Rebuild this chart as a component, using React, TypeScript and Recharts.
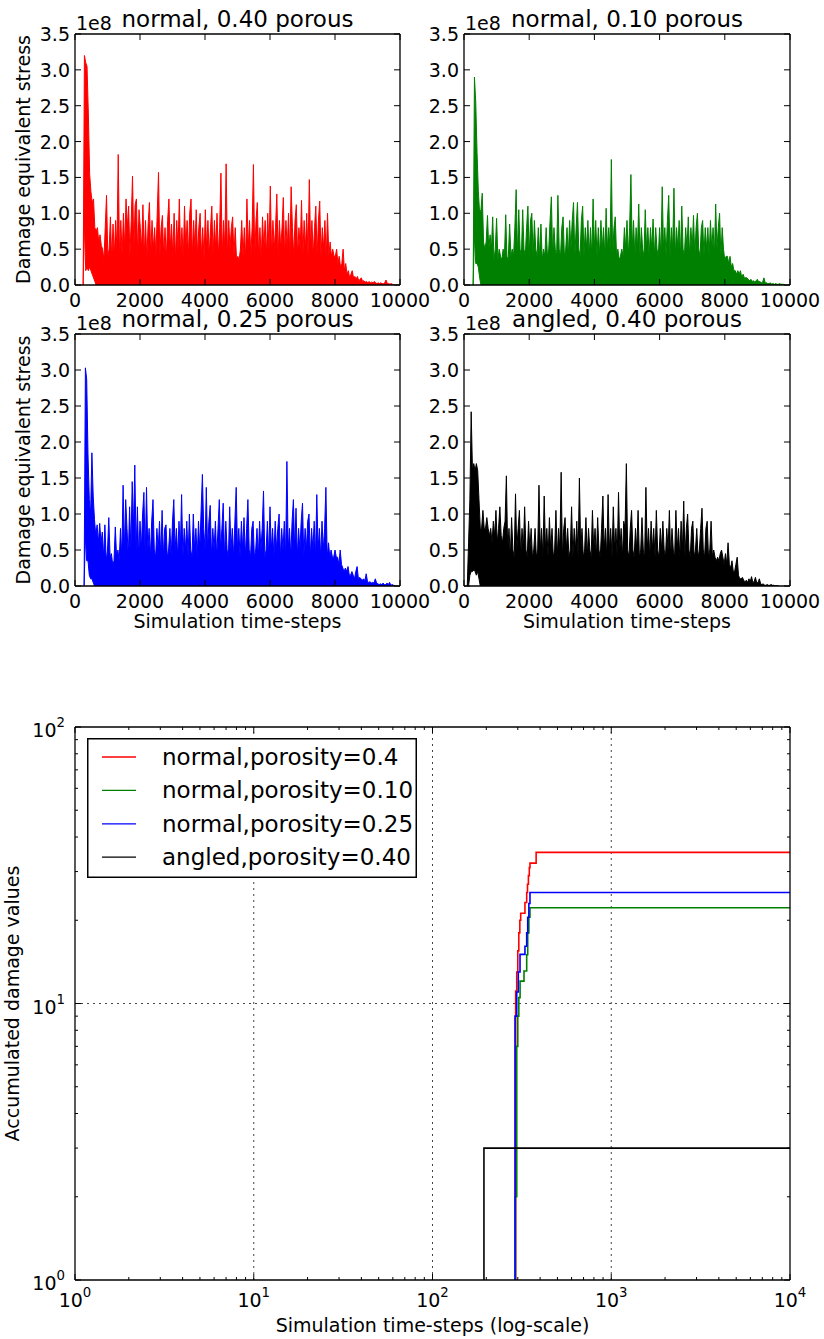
import React from 'react';
import { ComposedChart, LineChart, Area, Line, XAxis, YAxis, Legend, ReferenceLine } from 'recharts';

const FONT = "'DejaVu Sans', sans-serif";
const INK = '#000000';
const TICK_FONT = 19;
const TITLE_FONT = 23;
const LEGEND_FONT = 23;
const MAJOR = 6;
const MINOR = 3;
const FRAME = { stroke: INK, strokeWidth: 1.3 };

// ===== Top panels: damage equivalent stress (units of 1e7).
// The raw signal is far denser than a pixel, so each panel is drawn as its per-column
// envelope: HIGH = upper edge, LOW = lower edge (0 after the listed start).
const SAMPLE_STEP = 40;

const RED_START = 250;
const RED_HIGH = [
  0, 32, 31, 30.5, 24, 15.5, 13, 11.5, 12, 8, 7.5, 8, 6, 7, 5.5,
  5, 3.5, 8, 12.5, 4, 5, 9.5, 3.5, 8.5, 4, 9, 5, 18.2, 4, 9,
  4, 10, 5, 12, 8, 11, 4, 9, 15.2, 5, 11.2, 12, 4, 10.5, 8,
  5, 11.2, 4, 9, 3.5, 8.5, 11.5, 4, 9, 5, 8, 4, 10, 15.7, 4,
  8, 9.7, 4, 8, 3.5, 9, 12, 5, 8.5, 4, 10, 3.5, 9, 5, 12,
  4, 8, 3.5, 11, 5, 9, 4, 10, 12, 4, 9, 5, 10.5, 4, 8,
  10, 4, 8, 3.5, 10.5, 5, 9, 4, 8, 11, 4, 9, 5, 10, 4,
  8, 15.6, 4, 9, 5, 16.9, 4, 9, 5, 8, 9.5, 4, 8, 3.5, 4,
  3.5, 5, 9, 4, 8, 3.5, 12, 5, 9, 4, 8, 16.8, 4, 9, 11.5,
  4, 8, 3.5, 9.5, 5, 9, 4, 10, 5, 13.8, 4, 9, 5, 8, 12.7,
  4, 9, 5, 8, 12.2, 4, 9, 5, 10, 4, 13.7, 8, 4, 9, 11.2,
  4, 8, 5, 11.8, 4, 9, 5, 10, 4, 14.7, 5, 9, 4, 8, 11,
  4, 9, 11.7, 4, 8, 5, 9, 3.5, 10, 4, 6, 4, 5, 4, 4,
  5, 3, 4, 2.5, 3, 5, 2, 3, 1.5, 2, 1, 1.5, 2, 1, 1.2,
  0.8, 1.2, 0.6, 0.8, 1, 0.5, 0.6, 0.4, 0.5, 0.3, 0.5, 0.3, 0.4, 0.3, 0.5,
  0.3, 0.2, 0.3, 0.2, 0.3, 0.2, 0.2, 0.3, 0.7, 0.2, 0.2, 0.1, 0.2, 0.1, 0,
];
const RED_LOW = [0, 8.5, 2, 2.5, 2, 2.5, 2, 1.5, 1, 0.5, 0];

const GREEN_START = 280;
const GREEN_HIGH = [
  0, 29, 25.5, 18.5, 13, 10, 10.5, 12.8, 6, 5, 6, 9.7, 5, 7, 5,
  9.5, 3.5, 5, 9.3, 3.5, 5, 4, 3.5, 5, 4, 9.8, 3.5, 4, 8.5, 4,
  5, 4, 8, 13.3, 4, 10.5, 5, 4, 10.5, 5, 4, 8, 11, 4, 9,
  10, 4, 9, 5, 4, 8, 4, 8.5, 3.5, 5, 4, 8, 4, 5, 9,
  12.3, 4, 8, 5, 4, 12.5, 5, 4, 8, 9.5, 4, 5, 8, 4, 9,
  5, 9, 11.5, 4, 8, 11.5, 5, 4, 9, 11, 4, 8, 5, 9, 4,
  8, 4, 12, 5, 9, 4, 8, 4, 9, 5, 8, 4, 10.7, 5, 8,
  5, 17.5, 4, 8, 9.5, 4, 5, 3.5, 4, 5, 4, 8, 5, 9, 4,
  8, 15.4, 5, 9, 4, 8, 5, 11.3, 4, 8, 5, 4, 10.5, 5, 8,
  4, 8, 5, 9.2, 4, 8, 5, 4, 8, 4, 13.7, 5, 8, 4, 9,
  12.5, 4, 8, 5, 13.5, 4, 8, 5, 9, 4, 11, 5, 4, 8, 5,
  9.5, 4, 8, 5, 9.7, 4, 8, 10, 5, 4, 8, 9, 4, 8, 5,
  8, 4, 9, 5, 8, 4, 11.3, 5, 8, 10, 4, 8, 5, 3.5, 4,
  4, 3, 4, 2.5, 3, 2, 2, 1.5, 2, 1.5, 2, 1, 1.5, 1, 1,
  1, 0.8, 0.6, 0.8, 0.5, 0.6, 0.4, 0.6, 0.8, 0.4, 0.5, 0.3, 0.4, 1, 0.3,
  0.3, 0.2, 0.2, 0.3, 0.1, 0.2, 0.1, 0.2, 0.1, 0.1, 0.2, 0.1, 0.1, 0.1, 0,
];
const GREEN_LOW = [0, 7, 3, 3, 2.5, 1, 0];

const BLUE_START = 280;
const BLUE_HIGH = [
  0, 30.3, 28.7, 18.2, 12, 10, 18.5, 12.5, 9.2, 7, 8.5, 6, 8.7, 6, 7.5,
  4, 8.5, 3.5, 5, 9.5, 4, 4.5, 3, 3.5, 8.2, 4, 5, 3.5, 8, 4,
  14, 5, 12, 8, 4, 11, 5, 14.5, 8, 16.8, 5, 11, 4, 9, 5,
  10, 13, 4, 13.7, 5, 8, 4, 9, 12, 5, 4, 8, 5, 9, 4,
  10.5, 4, 8, 8.5, 4, 5, 8, 4, 9, 12, 5, 8, 4, 9, 5,
  12.7, 4, 8, 5, 9, 4, 10, 5, 4, 10, 5, 8, 4, 9, 5,
  10.5, 15.5, 8, 5, 13.7, 5, 9, 11.2, 4, 8, 5, 9, 4, 8, 12,
  5, 8, 11.5, 4, 9, 5, 4, 11, 5, 8, 4, 9, 13.7, 5, 8,
  4, 9, 5, 9.5, 4, 8, 12, 5, 4, 8, 9, 4, 5, 8, 4,
  9, 5, 8, 13.2, 4, 5, 9, 4, 11, 5, 8, 4, 9, 5, 8,
  10, 4, 8, 5, 9, 4, 17.3, 5, 8, 4, 9, 12, 5, 10.8, 4,
  8, 5, 9, 11.5, 4, 8, 5, 9, 10, 4, 8, 5, 9, 4, 12.7,
  5, 8, 4, 9, 5, 8, 13.7, 4, 6, 4, 5, 4, 4, 5, 4,
  4, 3, 5, 3, 2.5, 2, 2.5, 2, 2.7, 1.5, 1.5, 2, 1.5, 1, 2,
  2.7, 1, 1.2, 1, 0.8, 1, 0.7, 1.7, 0.6, 0.5, 0.6, 0.4, 0.5, 0.4, 1,
  0.4, 0.3, 0.2, 0.3, 0.2, 0.4, 0.2, 0.2, 0.4, 0.2, 0.5, 0.1, 0.2, 0.1, 0,
];
const BLUE_LOW = [0, 7, 3.5, 3.5, 1.5, 1, 1, 0.5, 0];

const BLACK_START = 100;
const BLACK_HIGH = [
  0, 6, 12, 24.2, 16, 17, 16, 17, 16, 12, 8, 8, 10.5, 8, 8,
  9.5, 8, 7, 8, 6, 9, 7, 10.5, 6, 8, 11, 7, 6, 8, 9,
  15.3, 5, 8, 4, 9.5, 5, 4, 12.8, 5, 8, 10.5, 4, 8, 5, 11,
  5, 4, 9, 5, 8, 4, 5, 8, 4, 5, 14, 5, 8, 4, 12.5,
  5, 8, 4, 9.5, 5, 8, 4, 5, 10.5, 4, 8, 5, 15.8, 4, 8,
  9.5, 5, 8, 4, 5, 11, 4, 8, 5, 9, 4, 15, 5, 8, 4,
  5, 9.5, 4, 8, 5, 4, 10.5, 5, 8, 4, 9.5, 5, 4, 8, 12.5,
  5, 8, 4, 12.7, 5, 8, 4, 11, 5, 8, 4, 13, 5, 8, 4,
  9, 8, 17, 5, 4, 8, 10.5, 5, 4, 8, 5, 10.5, 4, 5, 9.5,
  5, 4, 13.7, 5, 8, 4, 9, 5, 8, 4, 10.5, 5, 4, 8, 5,
  9, 5, 4, 8, 5, 10.5, 4, 8, 5, 4, 10.5, 5, 8, 4, 9,
  5, 11.8, 4, 8, 10, 5, 4, 8, 9, 4, 5, 8, 4, 5, 8,
  10.8, 5, 4, 8, 9, 4, 5, 9, 4, 5, 4, 3.5, 4, 3.5, 4.5,
  5, 4, 3, 4.5, 3, 6, 3, 2.5, 3.5, 2, 2, 3, 4, 1.5, 1,
  1, 1.2, 0.8, 0.6, 0.8, 0.5, 1, 0.6, 1.3, 0.5, 0.6, 1.2, 0.4, 0.5, 1,
  0.3, 0.2, 0.3, 0.1, 0.1, 0.2, 0.1, 0.1, 0.2, 0.1, 0.1, 0, 0.05, 0, 0,
];
const BLACK_LOW = [0, 0, 1.5, 2, 2, 2.2, 2, 1.5, 2, 1, 0];

const PANEL_TITLES = ['normal, 0.40 porous', 'normal, 0.10 porous', 'normal, 0.25 porous', 'angled, 0.40 porous'];
const PANEL_COLORS = ['#ff0000', '#008000', '#0000ff', '#000000'];

const TIME_TICKS = [0, 2000, 4000, 6000, 8000, 10000];
const STRESS_TICKS = [0, 5, 10, 15, 20, 25, 30, 35];
const STRESS_TICK_LABELS = ['0.0', '0.5', '1.0', '1.5', '2.0', '2.5', '3.0', '3.5'];
const STRESS_OFFSET_LABEL = '1e8';
const STRESS_Y_LABEL = 'Damage equivalent stress';
const TIME_X_LABEL = 'Simulation time-steps';

// ===== Bottom panel: accumulated damage (0.1 = no damage yet, below the log axis) =====
const RED_ACC_T = [1, 292, 296, 300, 304, 308, 311.5, 329, 336.5, 340, 344, 348, 351, 380, 10000];
const RED_ACC_V = [0.1, 11.1, 13, 15.5, 18, 20, 21.2, 23.2, 25.2, 27, 29, 31, 32.2, 35.2, 35.2];
const GREEN_ACC_T = [1, 291, 296, 300, 304, 309, 325, 336.5, 341, 346, 351, 10000];
const GREEN_ACC_V = [0.1, 2, 7, 9, 10.5, 12.05, 13.1, 15, 18, 20.5, 22.2, 22.2];
const BLUE_ACC_T = [1, 289.4, 296, 302, 308.8, 329, 336.5, 341, 346, 351, 10000];
const BLUE_ACC_V = [0.1, 9, 11, 13, 15.05, 16.1, 18, 20.5, 23, 25.2, 25.2];
const BLACK_ACC_T = [1, 194, 10000];
const BLACK_ACC_V = [0.1, 3, 3];

const DAMAGE_NAMES = ['normal,porosity=0.4', 'normal,porosity=0.10', 'normal,porosity=0.25', 'angled,porosity=0.40'];
const DAMAGE_COLORS = ['#ff0000', '#008000', '#0000ff', '#000000'];

const LOG_X_DECADES = [1, 10, 100, 1000, 10000];
const LOG_Y_DECADES = [1, 10, 100];
const MINOR_MULTIPLIERS = [2, 3, 4, 5, 6, 7, 8, 9];
const X_GRID = [10, 100, 1000];
const Y_GRID = [10];
const DAMAGE_X_LABEL = 'Simulation time-steps (log-scale)';
const DAMAGE_Y_LABEL = 'Accumulated damage values';

const withMinors = (decades: number[]) => {
  const out: number[] = [];
  decades.forEach((d, i) => {
    out.push(d);
    if (i < decades.length - 1) MINOR_MULTIPLIERS.forEach((m) => out.push(d * m));
  });
  return out;
};
const LOG_X_TICKS = withMinors(LOG_X_DECADES);
const LOG_Y_TICKS = withMinors(LOG_Y_DECADES);

const isMajor = (v: number) => Math.abs(Math.log10(v) - Math.round(Math.log10(v))) < 1e-9;
const expOf = (v: number) => Math.round(Math.log10(v));

const txt = { fontFamily: FONT, fill: INK };

// ---------- Stress panel ----------
const S_YW = 75, S_MT = 34, S_MR = 40, S_MB = 4, S_XH = 52;

type Rect = { x: number; y: number; w: number; h: number };

function StressPanel(props: {
  rect: Rect; high: number[]; low: number[]; start: number; color: string; title: string;
  showYLabel: boolean; showXLabel: boolean;
}) {
  const { rect, high, low, start, color, title, showYLabel, showXLabel } = props;
  const data = high.map((h, i) => ({ t: start + i * SAMPLE_STEP, range: [i < low.length ? low[i] : 0, h] }));
  const W = rect.w + S_YW + S_MR;
  const H = rect.h + S_MT + S_MB + S_XH;
  const plotL = S_YW;
  const plotT = S_MT;
  const plotB = S_MT + rect.h;

  const bottomTick = (p: any) => (
    <g>
      <line x1={p.x} x2={p.x} y1={p.y} y2={p.y - MAJOR} stroke={INK} strokeWidth={1} />
      <text x={p.x} y={p.y + 22} textAnchor="middle" fontSize={TICK_FONT} {...txt}>{String(p.payload.value)}</text>
    </g>
  );
  const topTick = (p: any) => (
    <line x1={p.x} x2={p.x} y1={p.y} y2={p.y + MAJOR} stroke={INK} strokeWidth={1} />
  );
  const leftTick = (p: any) => (
    <g>
      <line x1={p.x} x2={p.x + MAJOR} y1={p.y} y2={p.y} stroke={INK} strokeWidth={1} />
      <text x={p.x - 5} y={p.y + 7} textAnchor="end" fontSize={TICK_FONT} {...txt}>
        {STRESS_TICK_LABELS[STRESS_TICKS.indexOf(p.payload.value)]}
      </text>
    </g>
  );
  const rightTick = (p: any) => (
    <line x1={p.x} x2={p.x - MAJOR} y1={p.y} y2={p.y} stroke={INK} strokeWidth={1} />
  );

  const titleLabel = () => (
    <text x={plotL + rect.w / 2} y={plotT - 7.5} textAnchor="middle" fontSize={TITLE_FONT} {...txt}>{title}</text>
  );
  const leftLabel = () => (
    <g>
      <text x={plotL + 1} y={plotT - 4.5} textAnchor="start" fontSize={TICK_FONT} {...txt}>{STRESS_OFFSET_LABEL}</text>
      {showYLabel && (
        <text x={plotL - 45.5} y={plotT + rect.h / 2} textAnchor="middle" fontSize={TICK_FONT}
          transform={`rotate(-90, ${plotL - 45.5}, ${plotT + rect.h / 2})`} {...txt}>{STRESS_Y_LABEL}</text>
      )}
    </g>
  );
  const bottomLabel = () => (
    showXLabel ? (
      <text x={plotL + rect.w / 2} y={plotB + 42} textAnchor="middle" fontSize={TICK_FONT} {...txt}>{TIME_X_LABEL}</text>
    ) : <g />
  );

  return (
    <div style={{ position: 'absolute', left: rect.x - S_YW, top: rect.y - S_MT }}>
      <ComposedChart width={W} height={H} data={data} margin={{ top: S_MT - 1, right: S_MR - 1, bottom: S_MB, left: 0 }}>
        <XAxis xAxisId="b" dataKey="t" type="number" domain={[0, 10000]} ticks={TIME_TICKS} interval={0}
          height={S_XH} tickSize={0} tickMargin={0} tickLine={false} axisLine={FRAME} tick={bottomTick}
          allowDataOverflow label={bottomLabel} />
        <XAxis xAxisId="t" orientation="top" dataKey="t" type="number" domain={[0, 10000]} ticks={TIME_TICKS}
          interval={0} height={1} tickSize={0} tickMargin={0} tickLine={false} axisLine={FRAME} tick={topTick}
          allowDataOverflow label={titleLabel} />
        <YAxis yAxisId="l" type="number" domain={[0, 35]} ticks={STRESS_TICKS} interval={0} width={S_YW}
          tickSize={0} tickMargin={0} tickLine={false} axisLine={FRAME} tick={leftTick} allowDataOverflow
          label={leftLabel} />
        <YAxis yAxisId="r" orientation="right" type="number" domain={[0, 35]} ticks={STRESS_TICKS} interval={0}
          width={1} tickSize={0} tickMargin={0} tickLine={false} axisLine={FRAME} tick={rightTick} allowDataOverflow />
        <Area xAxisId="b" yAxisId="l" type="linear" dataKey="range" stroke={color} strokeWidth={1} fill={color}
          fillOpacity={1} dot={false} activeDot={false} isAnimationActive={false} />
      </ComposedChart>
    </div>
  );
}

// ---------- Damage panel ----------
const B_RECT: Rect = { x: 75, y: 727, w: 715, h: 553 };
const B_YW = 75, B_MT = 40, B_MR = 24, B_MB = 0, B_XH = 58;

const DAMAGE_SERIES = [
  { name: DAMAGE_NAMES[0], color: DAMAGE_COLORS[0], t: RED_ACC_T, v: RED_ACC_V },
  { name: DAMAGE_NAMES[1], color: DAMAGE_COLORS[1], t: GREEN_ACC_T, v: GREEN_ACC_V },
  { name: DAMAGE_NAMES[2], color: DAMAGE_COLORS[2], t: BLUE_ACC_T, v: BLUE_ACC_V },
  { name: DAMAGE_NAMES[3], color: DAMAGE_COLORS[3], t: BLACK_ACC_T, v: BLACK_ACC_V },
];

const LEGEND_W = 330, LEGEND_H = 140;
const renderLegend = (props: any) => {
  const payload: any[] = (props && props.payload) || [];
  const items = DAMAGE_SERIES.map((s) => {
    const p = payload.find((q: any) => q && q.value === s.name);
    return { name: s.name, color: (p && p.color) || s.color };
  });
  return (
    <svg width={LEGEND_W} height={LEGEND_H} style={{ display: 'block' }}>
      <rect x={0.75} y={0.75} width={LEGEND_W - 1.5} height={LEGEND_H - 1.5} fill="#fff" stroke={INK} strokeWidth={1.5} />
      {items.map((it: any, i: number) => {
        const cy = 19 + i * 33.4;
        return (
          <g key={i}>
            <line x1={15} x2={49} y1={cy} y2={cy} stroke={it.color} strokeWidth={1.3} />
            <text x={75} y={cy + 8} fontSize={LEGEND_FONT} {...txt}>{it.name}</text>
          </g>
        );
      })}
    </svg>
  );
};

function DamagePanel() {
  const rect = B_RECT;
  const W = rect.w + B_YW + B_MR;
  const H = rect.h + B_MT + B_MB + B_XH;
  const chartX = rect.x - B_YW;
  const chartY = rect.y - B_MT;
  const plotL = B_YW;
  const plotT = B_MT;
  const plotB = B_MT + rect.h;

  const bottomTick = (p: any) => {
    const v = p.payload.value;
    const major = isMajor(v);
    return (
      <g>
        <line x1={p.x} x2={p.x} y1={p.y} y2={p.y - (major ? MAJOR : MINOR)} stroke={INK} strokeWidth={1} />
        {major && (
          <text x={p.x} y={p.y + 27} textAnchor="middle" fontSize={TICK_FONT} {...txt}>
            10<tspan dy={-10} fontSize={13.3}>{expOf(v)}</tspan>
          </text>
        )}
      </g>
    );
  };
  const topTick = (p: any) => {
    const major = isMajor(p.payload.value);
    return <line x1={p.x} x2={p.x} y1={p.y} y2={p.y + (major ? MAJOR : MINOR)} stroke={INK} strokeWidth={1} />;
  };
  const leftTick = (p: any) => {
    const v = p.payload.value;
    const major = isMajor(v);
    return (
      <g>
        <line x1={p.x} x2={p.x + (major ? MAJOR : MINOR)} y1={p.y} y2={p.y} stroke={INK} strokeWidth={1} />
        {major && (
          <text x={p.x - 10} y={p.y + 10} textAnchor="end" fontSize={TICK_FONT} {...txt}>
            10<tspan dy={-10} fontSize={13.3}>{expOf(v)}</tspan>
          </text>
        )}
      </g>
    );
  };
  const rightTick = (p: any) => {
    const major = isMajor(p.payload.value);
    return <line x1={p.x} x2={p.x - (major ? MAJOR : MINOR)} y1={p.y} y2={p.y} stroke={INK} strokeWidth={1} />;
  };
  const xLabel = () => (
    <text x={plotL + rect.w / 2} y={plotB + 52} textAnchor="middle" fontSize={TICK_FONT} {...txt}>{DAMAGE_X_LABEL}</text>
  );
  const yLabel = () => (
    <text x={plotL - 56} y={plotT + rect.h / 2} textAnchor="middle" fontSize={TICK_FONT}
      transform={`rotate(-90, ${plotL - 56}, ${plotT + rect.h / 2})`} {...txt}>{DAMAGE_Y_LABEL}</text>
  );

  return (
    <div style={{ position: 'absolute', left: chartX, top: chartY }}>
      <LineChart width={W} height={H} margin={{ top: B_MT - 1, right: B_MR - 1, bottom: B_MB, left: 0 }}>
        <XAxis xAxisId="b" dataKey="t" type="number" scale="log" domain={[1, 10000]} ticks={LOG_X_TICKS} interval={0}
          height={B_XH} tickSize={0} tickMargin={0} tickLine={false} axisLine={FRAME} tick={bottomTick}
          allowDataOverflow label={xLabel} />
        <XAxis xAxisId="t" orientation="top" dataKey="t" type="number" scale="log" domain={[1, 10000]} ticks={LOG_X_TICKS}
          interval={0} height={1} tickSize={0} tickMargin={0} tickLine={false} axisLine={FRAME} tick={topTick}
          allowDataOverflow />
        <YAxis yAxisId="l" type="number" scale="log" domain={[1, 100]} ticks={LOG_Y_TICKS} interval={0} width={B_YW}
          tickSize={0} tickMargin={0} tickLine={false} axisLine={FRAME} tick={leftTick} allowDataOverflow label={yLabel} />
        <YAxis yAxisId="r" orientation="right" type="number" scale="log" domain={[1, 100]} ticks={LOG_Y_TICKS} interval={0}
          width={1} tickSize={0} tickMargin={0} tickLine={false} axisLine={FRAME} tick={rightTick} allowDataOverflow />
        {X_GRID.map((g) => (
          <ReferenceLine key={`gx${g}`} xAxisId="b" yAxisId="l" x={g} stroke="#444" strokeWidth={1} strokeDasharray="2 4" />
        ))}
        {Y_GRID.map((g) => (
          <ReferenceLine key={`gy${g}`} xAxisId="b" yAxisId="l" y={g} stroke="#444" strokeWidth={1} strokeDasharray="2 4" />
        ))}
        {DAMAGE_SERIES.map((s) => (
          <Line key={s.name} xAxisId="b" yAxisId="l" name={s.name} type="stepAfter"
            data={s.t.map((t, i) => ({ t, v: s.v[i] }))} dataKey="v" stroke={s.color} strokeWidth={1.6}
            dot={false} activeDot={false} isAnimationActive={false} />
        ))}
        <Legend layout="vertical" align="center" verticalAlign="middle" content={renderLegend}
          wrapperStyle={{ left: 87 - chartX, top: 738 - chartY, width: LEGEND_W, height: LEGEND_H }} />
      </LineChart>
    </div>
  );
}

const PANEL_RECTS: Rect[] = [
  { x: 75, y: 34, w: 325, h: 251 },
  { x: 464, y: 34, w: 326, h: 251 },
  { x: 75, y: 334, w: 325, h: 252 },
  { x: 464, y: 334, w: 326, h: 252 },
];
const PANEL_HIGHS = [RED_HIGH, GREEN_HIGH, BLUE_HIGH, BLACK_HIGH];
const PANEL_LOWS = [RED_LOW, GREEN_LOW, BLUE_LOW, BLACK_LOW];
const PANEL_STARTS = [RED_START, GREEN_START, BLUE_START, BLACK_START];

export default function App() {
  return (
    <div style={{ position: 'absolute', left: 0, top: 0, width: 824, height: 1339, background: '#fff', overflow: 'hidden' }}>
      {PANEL_RECTS.map((r, i) => (
        <StressPanel key={i} rect={r} high={PANEL_HIGHS[i]} low={PANEL_LOWS[i]} start={PANEL_STARTS[i]}
          color={PANEL_COLORS[i]} title={PANEL_TITLES[i]} showYLabel={i % 2 === 0} showXLabel={i >= 2} />
      ))}
      <DamagePanel />
    </div>
  );
}
